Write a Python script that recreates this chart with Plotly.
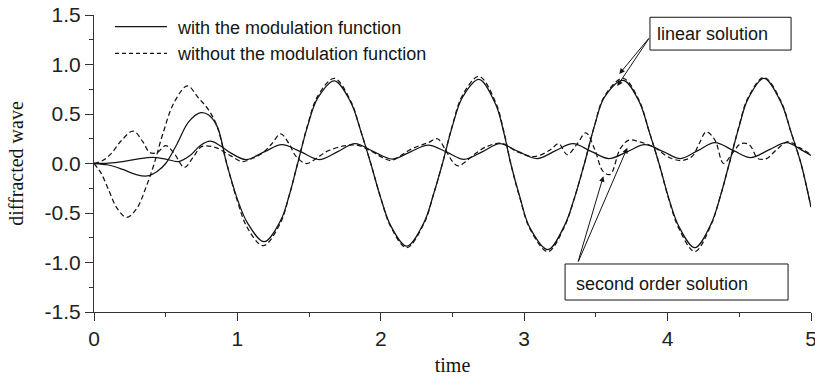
import plotly.graph_objects as go

# ---------------- data ----------------
# linear solution, with the modulation function (solid)
T_LIN_MOD = [0, 0.1, 0.2, 0.29, 0.37, 0.44, 0.5, 0.58, 0.66, 0.744, 0.8, 0.86, 0.925,
             1.0, 1.07, 1.186, 1.3, 1.36, 1.42, 1.49, 1.56, 1.676, 1.79, 1.86, 1.93,
             2.0, 2.07, 2.181, 2.3, 2.37, 2.43, 2.5, 2.57, 2.685, 2.8, 2.86, 2.906,
             2.97, 3.04, 3.165, 3.28, 3.35, 3.42, 3.49, 3.56, 3.69, 3.8, 3.87, 3.94,
             4.01, 4.08, 4.19, 4.3, 4.37, 4.43, 4.5, 4.56, 4.672, 4.79, 4.86, 4.93, 5.0]
V_LIN_MOD = [0, -0.015, -0.06, -0.11, -0.126, -0.08, 0.0, 0.2, 0.42, 0.513, 0.49, 0.37, 0.0,
             -0.36, -0.6, -0.79, -0.58, -0.33, 0.0, 0.38, 0.66, 0.835, 0.62, 0.33, 0.0,
             -0.35, -0.63, -0.835, -0.6, -0.3, 0.0, 0.38, 0.67, 0.85, 0.6, 0.3, 0.0,
             -0.34, -0.65, -0.87, -0.63, -0.35, 0.0, 0.38, 0.67, 0.84, 0.63, 0.33, 0.0,
             -0.36, -0.64, -0.85, -0.62, -0.32, 0.0, 0.38, 0.65, 0.86, 0.62, 0.32, 0.0, -0.44]

# linear solution, without the modulation function (dashed)
T_LIN_RAW = [0, 0.05, 0.1, 0.16, 0.228, 0.3, 0.36, 0.42, 0.48, 0.56, 0.651, 0.73, 0.8, 0.86, 0.92,
             1.0, 1.07, 1.18, 1.3, 1.36, 1.42, 1.49, 1.56, 1.676, 1.79, 1.86, 1.93,
             2.0, 2.07, 2.18, 2.3, 2.37, 2.43, 2.5, 2.57, 2.685, 2.8, 2.86, 2.906,
             2.97, 3.04, 3.165, 3.28, 3.35, 3.42, 3.49, 3.56, 3.69, 3.8, 3.87, 3.94,
             4.01, 4.08, 4.19, 4.3, 4.37, 4.43, 4.5, 4.56, 4.672, 4.79, 4.86, 4.93, 5.0]
V_LIN_RAW = [0, -0.1, -0.26, -0.45, -0.544, -0.45, -0.25, 0.0, 0.3, 0.62, 0.783, 0.66, 0.54, 0.37, 0.03,
             -0.38, -0.65, -0.83, -0.6, -0.33, 0.0, 0.39, 0.68, 0.86, 0.63, 0.33, 0.0,
             -0.35, -0.64, -0.85, -0.61, -0.3, 0.0, 0.39, 0.69, 0.88, 0.62, 0.31, 0.0,
             -0.35, -0.66, -0.89, -0.64, -0.35, 0.0, 0.38, 0.68, 0.86, 0.64, 0.33, 0.0,
             -0.37, -0.66, -0.89, -0.63, -0.32, 0.0, 0.39, 0.66, 0.87, 0.63, 0.32, 0.0, -0.44]

# second order solution, with the modulation function (solid)
T_SEC_MOD = [0, 0.1, 0.2, 0.3, 0.41, 0.5, 0.59, 0.67, 0.74, 0.81, 0.88, 0.95, 1.06, 1.19,
             1.31, 1.44, 1.57, 1.7, 1.82, 1.95, 2.08, 2.21, 2.33, 2.46, 2.58, 2.71, 2.83,
             2.96, 3.09, 3.22, 3.34, 3.47, 3.59, 3.72, 3.84, 3.97, 4.09, 4.21, 4.33, 4.46,
             4.58, 4.71, 4.83, 4.93, 5.0]
V_SEC_MOD = [0, 0.004, 0.02, 0.045, 0.062, 0.045, 0.02, 0.08, 0.18, 0.225, 0.18, 0.11, 0.04, 0.12,
             0.19, 0.12, 0.04, 0.12, 0.2, 0.12, 0.045, 0.12, 0.185, 0.115, 0.042, 0.12, 0.2,
             0.12, 0.05, 0.13, 0.2, 0.12, 0.05, 0.12, 0.19, 0.12, 0.05, 0.13, 0.21, 0.13,
             0.06, 0.14, 0.21, 0.14, 0.08]

# second order solution, without the modulation function (dashed)
T_SEC_RAW = [0, 0.06, 0.12, 0.19, 0.274, 0.34, 0.39, 0.44, 0.5, 0.56, 0.63, 0.69, 0.75, 0.85, 0.95,
             1.035, 1.1, 1.17, 1.24, 1.302, 1.36, 1.41, 1.48, 1.55, 1.62, 1.74, 1.83, 1.91, 2.0,
             2.07, 2.14, 2.2, 2.27, 2.33, 2.395, 2.45, 2.5, 2.54, 2.6, 2.66, 2.73, 2.84, 2.95,
             3.07, 3.18, 3.24, 3.3, 3.37, 3.43, 3.49, 3.55, 3.6, 3.67, 3.73, 3.8, 3.9, 4.0,
             4.09, 4.17, 4.22, 4.27, 4.33, 4.39, 4.45, 4.51, 4.57, 4.63, 4.69, 4.76, 4.84, 4.92, 5.0]
V_SEC_RAW = [0, 0.03, 0.1, 0.23, 0.328, 0.22, 0.11, 0.11, 0.18, 0.1, -0.04, 0.06, 0.17, 0.16, 0.08,
             0.02, 0.05, 0.1, 0.2, 0.3, 0.2, 0.07, 0.0, 0.05, 0.12, 0.177, 0.187, 0.143, 0.07,
             0.03, 0.08, 0.136, 0.18, 0.21, 0.25, 0.14, 0.02, -0.025, 0.03, 0.1, 0.165, 0.204, 0.12,
             0.069, 0.136, 0.2, 0.09, 0.2, 0.31, 0.15, -0.08, -0.11, 0.15, 0.237, 0.22, 0.17, 0.07,
             0.03, 0.07, 0.2, 0.32, 0.237, 0.0, 0.1, 0.2, 0.19, 0.05, 0.05, 0.14, 0.22, 0.16, 0.09]

X_TICKS = [0, 1, 2, 3, 4, 5]
X_LABELS = ["0", "1", "2", "3", "4", "5"]
Y_TICKS = [-1.5, -1.0, -0.5, 0.0, 0.5, 1.0, 1.5]
Y_LABELS = ["-1.5", "-1.0", "-0.5", "0.0", "0.5", "1.0", "1.5"]

LEGEND_NAMES = ["with the modulation function", "without the modulation function"]

for a, b in [(T_LIN_MOD, V_LIN_MOD), (T_LIN_RAW, V_LIN_RAW),
             (T_SEC_MOD, V_SEC_MOD), (T_SEC_RAW, V_SEC_RAW)]:
    assert len(a) == len(b), (len(a), len(b))

# ---------------- styling ----------------
INK = "#151515"
AXIS = "#333333"
SANS = "Liberation Sans, Arial, sans-serif"
SERIF = "Liberation Serif, Times New Roman, serif"
DASH = "5px,3px"

fig = go.Figure()

series = [
    (T_LIN_MOD, V_LIN_MOD, "solid", LEGEND_NAMES[0]),
    (T_LIN_RAW, V_LIN_RAW, DASH, LEGEND_NAMES[1]),
    (T_SEC_MOD, V_SEC_MOD, "solid", LEGEND_NAMES[0]),
    (T_SEC_RAW, V_SEC_RAW, DASH, LEGEND_NAMES[1]),
]
for t, v, dash, name in series:
    fig.add_trace(go.Scatter(
        x=t, y=v, mode="lines", name=name, showlegend=False, hoverinfo="skip",
        line=dict(color=INK, width=1.25, dash=dash, shape="spline", smoothing=1.0),
    ))

# hand-drawn legend in the upper-left corner
legend_rows = [(0.9606, 0.957, "solid"), (0.871, 0.8673, "4px,3px")]
for (ly, ty, dash), name in zip(legend_rows, LEGEND_NAMES):
    fig.add_shape(type="line", xref="paper", yref="paper",
                  x0=0.0293, x1=0.1018, y0=ly, y1=ly,
                  line=dict(color=INK, width=1.2, dash=dash))
    fig.add_annotation(xref="paper", yref="paper", x=0.113, y=ty,
                       xanchor="left", yanchor="middle", showarrow=False,
                       text=name, font=dict(family=SANS, size=18, color=INK))

# callout boxes
fig.add_shape(type="rect", xref="x", yref="y", x0=3.877, x1=4.861, y0=1.146, y1=1.477,
              line=dict(color=INK, width=1), fillcolor="white", layer="above")
fig.add_annotation(xref="x", yref="y", x=3.912, y=1.304, xanchor="left", yanchor="middle",
                   showarrow=False, text="linear solution",
                   font=dict(family=SANS, size=18, color=INK))
fig.add_shape(type="rect", xref="x", yref="y", x0=3.285, x1=4.840, y0=-1.379, y1=-1.015,
              line=dict(color=INK, width=1), fillcolor="white", layer="above")
fig.add_annotation(xref="x", yref="y", x=3.347, y=-1.214, xanchor="left", yanchor="middle",
                   showarrow=False, text="second order solution",
                   font=dict(family=SANS, size=18, color=INK))

# pointer arrows from the callouts to the curves
arrows = [
    ((3.877, 1.278), (3.663, 0.904)),
    ((3.877, 1.278), (3.649, 0.783)),
    ((3.373, -1.005), (3.552, -0.128)),
    ((3.373, -1.005), (3.719, 0.159)),
]
for (ax, ay), (x, y) in arrows:
    fig.add_annotation(xref="x", yref="y", axref="x", ayref="y",
                       x=x, y=y, ax=ax, ay=ay, text="", showarrow=True,
                       arrowhead=2, arrowsize=1.1, arrowwidth=1, arrowcolor=INK,
                       standoff=0, startstandoff=0)

axis_common = dict(
    showline=True, linecolor=AXIS, linewidth=1, mirror=False,
    showgrid=False, zeroline=False,
    ticks="outside", ticklen=8, tickwidth=1, tickcolor=AXIS,
    tickfont=dict(family=SANS, size=21, color="#222222"),
    ticklabeloverflow="allow",
)

fig.update_xaxes(
    range=[0, 5], tickmode="array", tickvals=X_TICKS, ticktext=X_LABELS,
    minor=dict(ticks="outside", ticklen=4, tickwidth=1, tickcolor=AXIS,
               tickvals=[k + 0.5 for k in range(5)]),
    title=dict(text="time", font=dict(family=SERIF, size=20, color=INK), standoff=8),
    **axis_common,
)
fig.update_yaxes(
    range=[-1.5, 1.5], tickmode="array", tickvals=Y_TICKS, ticktext=Y_LABELS,
    minor=dict(ticks="outside", ticklen=4, tickwidth=1, tickcolor=AXIS,
               tickvals=[-1.25, -0.75, -0.25, 0.25, 0.75, 1.25]),
    title=dict(text="diffracted wave", font=dict(family=SERIF, size=20, color=INK), standoff=15),
    **axis_common,
)

fig.update_layout(
    width=815, height=377,
    margin=dict(l=94, r=4, t=15, b=65, autoexpand=False),
    paper_bgcolor="white", plot_bgcolor="white",
    showlegend=False,
)

fig.write_html("out.html")
